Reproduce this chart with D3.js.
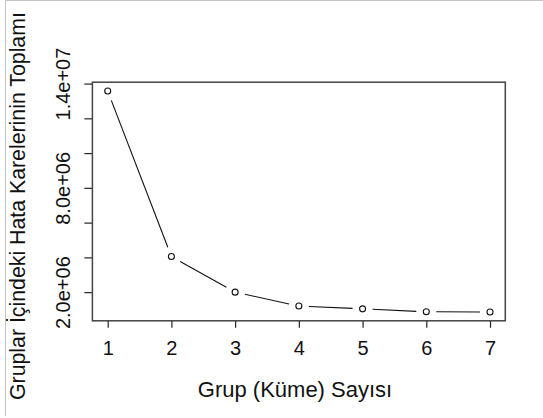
<!DOCTYPE html>
<meta charset="utf-8">
<style>
  body { margin: 0; background: #fff; }
  svg { display: block; font-family: "Liberation Sans", Arial, sans-serif; }
  .tick text { fill: #111; }
</style>
<body>
<div id="viz"></div>
<script src="https://d3js.org/d3.v7.min.js"></script>
<script>
// grup sayısı ve toplam hata kareleri
var groups = [1, 2, 3, 4, 5, 6, 7];
var wss = [13570000, 4050000, 2000000, 1200000, 1040000, 870000, 860000];
var yTicks = [2e6, 4e6, 6e6, 8e6, 10e6, 12e6, 14e6];
var yTickLabels = {2000000: '2.0e+06', 8000000: '8.0e+06', 14000000: '1.4e+07'};

var W = 543, H = 418;
var box = {left: 92.4, right: 505.3, top: 82.2, bottom: 320.8};

// R tarzı %4 genişletme
function padded(ext) {
  var d = (ext[1] - ext[0]) * 0.04;
  return [ext[0] - d, ext[1] + d];
}

var x = d3.scaleLinear().domain(padded(d3.extent(groups))).range([box.left, box.right]);
var y = d3.scaleLinear().domain(padded(d3.extent(wss))).range([box.bottom, box.top]);

var svg = d3.select('#viz').append('svg')
    .attr('width', W)
    .attr('height', H);

// ince gri çerçeve (sol ve üst)
svg.append('line').attr('x1', 5.5).attr('x2', 5.5).attr('y1', 0).attr('y2', 416)
    .attr('stroke', '#c4c4c4').attr('stroke-width', 1);
svg.append('line').attr('x1', 5).attr('x2', W).attr('y1', 0.5).attr('y2', 0.5)
    .attr('stroke', '#c4c4c4').attr('stroke-width', 1);

// X ekseni
var xAxis = svg.append('g')
    .attr('transform', 'translate(0,' + box.bottom + ')')
    .call(d3.axisBottom(x).tickValues(groups).tickSize(7).tickPadding(10).tickFormat(d3.format('d')));
xAxis.select('.domain').remove();
xAxis.selectAll('line').attr('stroke', '#222').attr('stroke-width', 1.2);
xAxis.selectAll('text').attr('font-size', 20).attr('dy', 0).attr('y', 34.5);

// Y ekseni
var yAxis = svg.append('g')
    .attr('transform', 'translate(' + box.left + ',0)')
    .call(d3.axisLeft(y).tickValues(yTicks).tickSize(8)
      .tickFormat(function(d) { return yTickLabels[d] || ''; }));
yAxis.select('.domain').remove();
yAxis.selectAll('line').attr('stroke', '#222').attr('stroke-width', 1.2);
yAxis.selectAll('text')
    .attr('font-size', 20)
    .attr('text-anchor', 'middle')
    .attr('x', 0).attr('dy', 0)
    .attr('transform', 'translate(-22,0) rotate(-90)');

// çizim kutusu
svg.append('rect')
    .attr('x', box.left).attr('y', box.top)
    .attr('width', box.right - box.left).attr('height', box.bottom - box.top)
    .attr('fill', 'none').attr('stroke', '#444').attr('stroke-width', 1.5);

var pts = groups.map(function(g, i) { return [x(g), y(wss[i])]; });

// noktalar arası boşluklu çizgiler (type = "b")
var gap = 10;
for (var i = 0; i < pts.length - 1; i++) {
  var a = pts[i], b = pts[i + 1];
  var dx = b[0] - a[0], dy = b[1] - a[1];
  var len = Math.sqrt(dx * dx + dy * dy);
  var ux = dx / len, uy = dy / len;
  svg.append('line')
      .attr('x1', a[0] + ux * gap).attr('y1', a[1] + uy * gap)
      .attr('x2', b[0] - ux * gap).attr('y2', b[1] - uy * gap)
      .attr('stroke', '#111').attr('stroke-width', 1.1);
}

svg.selectAll('circle.pt')
    .data(pts)
    .enter().append('circle')
    .attr('class', 'pt')
    .attr('cx', function(d) { return d[0]; })
    .attr('cy', function(d) { return d[1]; })
    .attr('r', 3)
    .attr('fill', 'none')
    .attr('stroke', '#111')
    .attr('stroke-width', 1.1);

// eksen başlıkları
svg.append('text')
    .attr('x', 295).attr('y', 397)
    .attr('text-anchor', 'middle')
    .attr('font-size', 22)
    .attr('fill', '#111')
    .text('Grup (Küme) Sayısı');

svg.append('text')
    .attr('transform', 'translate(25,400) rotate(-90)')
    .attr('text-anchor', 'start')
    .attr('font-size', 21.3)
    .attr('fill', '#111')
    .text('Gruplar İçindeki Hata Karelerinin Toplamı');
</script>
</body>
